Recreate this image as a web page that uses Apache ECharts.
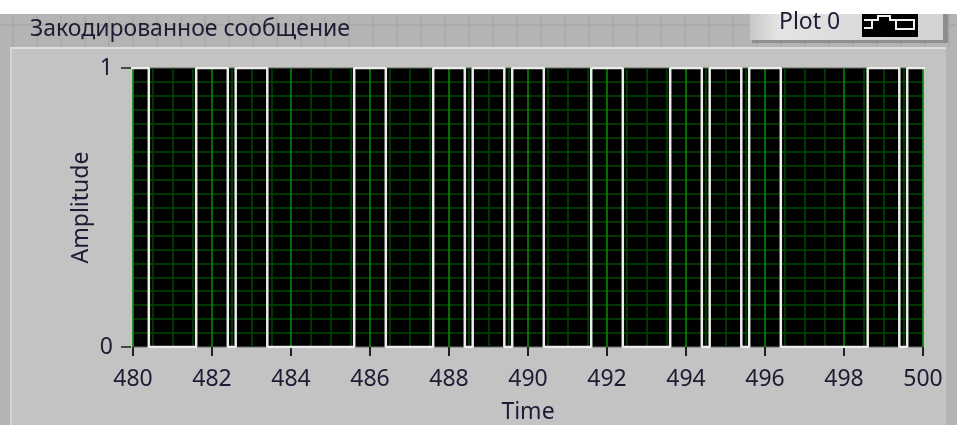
<!DOCTYPE html>
<html>
<head>
<meta charset="utf-8">
<script src="https://cdn.jsdelivr.net/npm/echarts@6/dist/echarts.min.js"></script>
<style>
  html, body { margin: 0; padding: 0; background: #fff; }
  #chart { width: 957px; height: 425px; }
</style>
</head>
<body>
<div id="chart"></div>
<script>
// encoded message: one bit per time unit
const times = [480, 481, 482, 483, 484, 485, 486, 487, 488, 489, 490, 491, 492, 493, 494, 495, 496, 497, 498, 499, 500];
const bits = [1, 0, 1, 1, 0, 0, 1, 0, 1, 1, 1, 0, 1, 0, 1, 1, 1, 0, 0, 1, 1];
const pulseWidth = 0.8;
const xTicks = [480, 482, 484, 486, 488, 490, 492, 494, 496, 498, 500];
const yTicks = [0, 1];

const chart = echarts.init(document.getElementById('chart'));

// each "1" bit is a pulse centred on its time, line drops back to 0 between
function buildWave() {
    const pts = [];
    const h = pulseWidth / 2;
    times.forEach((t, i) => {
        if (bits[i] === 1) {
            pts.push([t - h, 0], [t - h, 1], [t + h, 1], [t + h, 0]);
        } else {
            pts.push([t - h, 0], [t + h, 0]);
        }
    });
    return pts;
}

const textColor = '#1c1c34';
const fontFamily = 'Noto Sans, Open Sans, sans-serif';
const fontSize = 23;

// panel grid behind the control (LabVIEW front panel)
const panelLines = [];
for (let x = 13; x < 957; x += 24) {
    panelLines.push({
        type: 'line', silent: true, z: -9,
        shape: { x1: x, y1: 14, x2: x, y2: 47 },
        style: { stroke: '#a2a2a2', lineWidth: 1 }
    });
}
panelLines.push({
    type: 'line', silent: true, z: -9,
    shape: { x1: 0, y1: 25, x2: 957, y2: 25 },
    style: { stroke: '#a2a2a2', lineWidth: 1 }
});

const option = {
    backgroundColor: '#ffffff',
    animation: false,
    graphic: [
        { type: 'rect', silent: true, z: -10, shape: { x: 0, y: 14, width: 957, height: 411 }, style: { fill: '#b4b4b4' } },
        ...panelLines,
        { type: 'rect', silent: true, z: -8, shape: { x: 10, y: 47, width: 936, height: 378 }, style: { fill: '#c3c3c3' } },
        { type: 'line', silent: true, z: -7, shape: { x1: 10, y1: 48, x2: 946, y2: 48 }, style: { stroke: '#dedede', lineWidth: 2 } },
        { type: 'line', silent: true, z: -7, shape: { x1: 11, y1: 48, x2: 11, y2: 425 }, style: { stroke: '#d6d6d6', lineWidth: 2 } },
        {
            type: 'text', x: 30, y: 29,
            style: { text: 'Закодированное сообщение', fill: textColor, font: fontSize + 'px ' + fontFamily, verticalAlign: 'middle' }
        },
        // legend box
        {
            type: 'group', x: 750, y: 14,
            children: [
                { type: 'rect', shape: { x: 2, y: 0, width: 196, height: 29 }, style: { fill: '#8e8e8e' } },
                {
                    type: 'rect', shape: { x: 0, y: 0, width: 193, height: 26 },
                    style: {
                        fill: new echarts.graphic.LinearGradient(0, 0, 1, 0, [
                            { offset: 0, color: '#c8c8c8' },
                            { offset: 0.15, color: '#e4e4e4' },
                            { offset: 1, color: '#d2d2d2' }
                        ])
                    }
                },
                { type: 'text', x: 29, y: 8, style: { text: 'Plot 0', fill: textColor, font: fontSize + 'px ' + fontFamily, verticalAlign: 'middle' } },
                { type: 'rect', shape: { x: 112, y: 0, width: 56, height: 23 }, style: { fill: '#000' } },
                {
                    type: 'polyline',
                    shape: { points: [[114, 6], [122, 6], [122, 14], [114, 14]] },
                    style: { stroke: '#f0f0f0', lineWidth: 2, fill: null }
                },
                {
                    type: 'polyline',
                    shape: { points: [[122, 6], [128, 6], [128, 2], [140, 2], [140, 6], [146, 6]] },
                    style: { stroke: '#f0f0f0', lineWidth: 2, fill: null }
                },
                { type: 'rect', shape: { x: 146, y: 6, width: 18, height: 9 }, style: { stroke: '#f0f0f0', lineWidth: 2, fill: null } }
            ]
        }
    ],
    grid: {
        left: 133,
        right: 34,
        top: 68,
        bottom: 78,
        outerBoundsMode: 'none',
        containLabel: false,
        show: true,
        backgroundColor: '#000000',
        borderColor: '#6e6e6e',
        borderWidth: 1
    },
    xAxis: {
        type: 'value',
        min: xTicks[0],
        max: xTicks[xTicks.length - 1],
        interval: xTicks[1] - xTicks[0],
        offset: 5,
        name: 'Time',
        nameLocation: 'middle',
        nameGap: 49,
        nameMoveOverlap: false,
        nameTextStyle: { color: textColor, fontSize: fontSize, fontFamily: fontFamily },
        axisLine: { show: false },
        axisTick: { show: true, length: 9, lineStyle: { color: '#202020', width: 2 } },
        axisLabel: { color: textColor, fontSize: fontSize, fontFamily: fontFamily, margin: 16 },
        splitLine: { show: true, lineStyle: { color: '#009200', width: 1.5 } },
        minorTick: { show: false, splitNumber: 4 },
        minorSplitLine: { show: true, lineStyle: { color: '#004800', width: 1.5 } }
    },
    yAxis: {
        type: 'value',
        min: yTicks[0],
        max: yTicks[1],
        interval: 1,
        offset: 2,
        name: 'Amplitude',
        nameLocation: 'middle',
        nameGap: 38,
        nameMoveOverlap: false,
        nameTextStyle: { color: textColor, fontSize: fontSize, fontFamily: fontFamily },
        axisLine: { show: false },
        axisTick: { show: true, length: 10, lineStyle: { color: '#202020', width: 1.5 } },
        axisLabel: { color: textColor, fontSize: fontSize, fontFamily: fontFamily, margin: 18 },
        splitLine: { show: false },
        minorTick: { show: false, splitNumber: 20 },
        minorSplitLine: { show: true, lineStyle: { color: '#004800', width: 1.5 } }
    },
    series: [{
        name: 'Plot 0',
        type: 'line',
        data: buildWave(),
        showSymbol: false,
        clip: true,
        lineStyle: { color: '#ececec', width: 2.5 }
    }]
};

chart.setOption(option);
</script>
</body>
</html>
